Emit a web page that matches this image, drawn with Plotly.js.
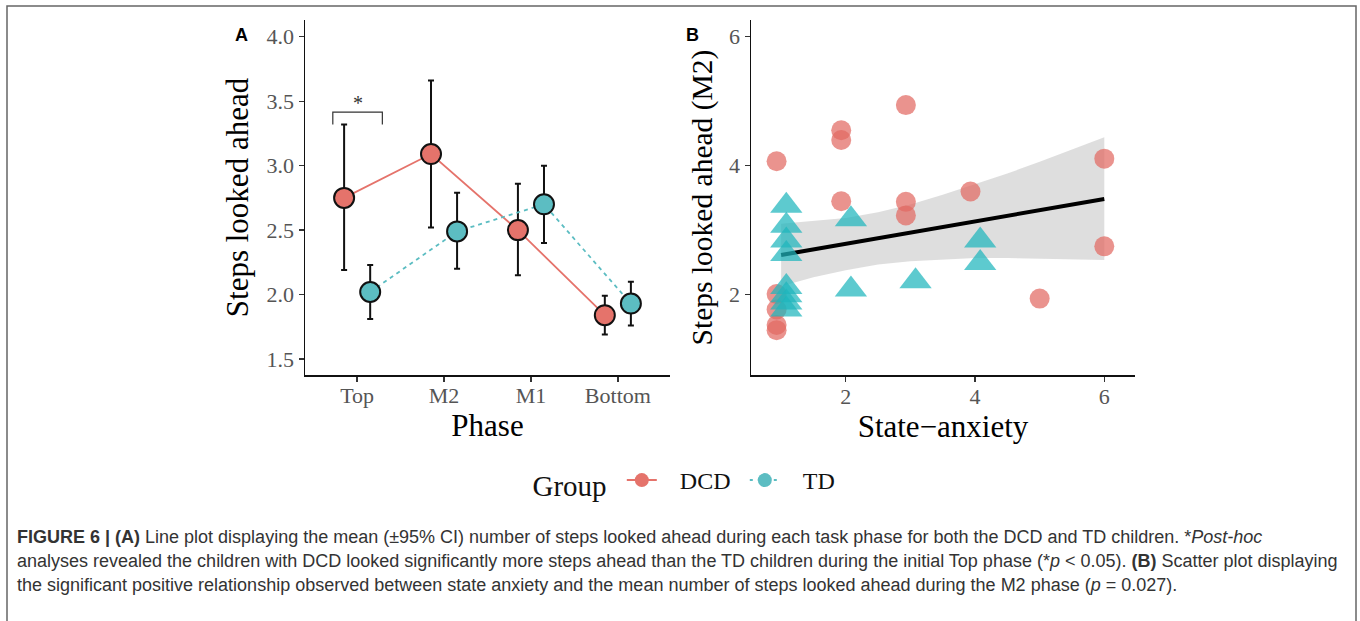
<!DOCTYPE html>
<html>
<head>
<meta charset="utf-8">
<script src="https://cdn.plot.ly/plotly-3.0.1.min.js"></script>
<style>
  html, body { margin: 0; padding: 0; background: #ffffff; }
  #chart { width: 1360px; height: 621px; }
</style>
</head>
<body>
<div id="chart"></div>
<script>
// ---------- Panel A data ----------
const phases   = ['Top', 'M2', 'M1', 'Bottom'];
const dcdMean  = [2.75, 3.09, 2.50, 1.84];
const dcdLow   = [2.19, 2.52, 2.15, 1.69];
const dcdHigh  = [3.32, 3.66, 2.86, 1.99];
const tdMean   = [2.02, 2.49, 2.70, 1.93];
const tdLow    = [1.81, 2.20, 2.40, 1.76];
const tdHigh   = [2.23, 2.79, 3.00, 2.10];
const groups   = ['DCD', 'TD'];

// ---------- Panel B data ----------
const dcdAnxiety = [0.93, 0.93, 0.93, 0.93, 0.93, 1.93, 1.93, 1.93, 2.93, 2.93, 2.93, 3.93, 5.0, 6.0, 6.0];
const dcdStepsM2 = [4.07, 2.01, 1.77, 1.53, 1.45, 4.55, 4.40, 3.45, 4.94, 3.44, 3.23, 3.60, 1.94, 4.11, 2.75];
const tdAnxiety  = [1.08, 1.08, 1.08, 1.08, 1.08, 1.08, 1.08, 1.08, 2.08, 2.08, 3.08, 4.08, 4.08];
const tdStepsM2  = [3.38, 3.07, 2.84, 2.63, 2.12, 1.99, 1.88, 1.77, 3.17, 2.08, 2.21, 2.84, 2.49];
const fitX       = [1, 6];
const fitY       = [2.615, 3.485];
const bandX      = [1, 1.5, 2, 2.5, 3, 3.5, 4, 4.5, 5, 5.5, 6];
const bandLow    = [2.13, 2.27, 2.38, 2.47, 2.52, 2.55, 2.57, 2.57, 2.56, 2.55, 2.54];
const bandHigh   = [3.10, 3.14, 3.19, 3.28, 3.40, 3.55, 3.71, 3.88, 4.06, 4.25, 4.44];

// significance bracket (Top phase, DCD vs TD)
const bracketX = [0.72, 1.29];
const bracketY = [3.32, 3.415];
const sigLabel = '*';

const caption = [
  '<b>FIGURE 6 | (A)</b> Line plot displaying the mean (±95% CI) number of steps looked ahead during each task phase for both the DCD and TD children. *<i>Post-hoc</i>',
  'analyses revealed the children with DCD looked significantly more steps ahead than the TD children during the initial Top phase (*<i>p</i> &lt; 0.05). <b>(B)</b> Scatter plot displaying',
  'the significant positive relationship observed between state anxiety and the mean number of steps looked ahead during the M2 phase (<i>p</i> = 0.027).'
];

// ---------- styling ----------
const RED = '#E5736B';
const TEAL = '#5CBDC2';
const SERIF = '"Liberation Serif", "Times New Roman", serif';
const SANS = '"Liberation Sans", Arial, sans-serif';
const W = 1360, H = 621;
const px = v => v / W;
const py = v => 1 - v / H;
const dodge = 0.15;
const pos = phases.map((_, i) => i + 1);
const NB = '\u00A0';

function errTrace(name, mean, lo, hi, color, dash, off) {
  return {
    type: 'scatter', mode: 'lines+markers', name: name,
    x: pos.map(p => p + off), y: mean,
    xaxis: 'x', yaxis: 'y',
    line: { color: color, width: 1.8, dash: dash },
    marker: { size: 20, color: color, line: { color: '#111', width: 2 } },
    error_y: {
      type: 'data', symmetric: false,
      array: hi.map((h, i) => h - mean[i]),
      arrayminus: mean.map((m, i) => m - lo[i]),
      color: '#111', thickness: 2, width: 3
    },
    legendgroup: name, showlegend: false
  };
}

function legendTrace(name, color, dash) {
  return {
    type: 'scatter', mode: 'lines+markers', name: NB + NB + NB + name, legendgroup: name,
    x: [null], y: [null], xaxis: 'x', yaxis: 'y',
    line: { color: color, width: 2, dash: dash },
    marker: { size: 14, color: color, line: { width: 0 } },
    showlegend: true, hoverinfo: 'skip'
  };
}

const traces = [
  errTrace(groups[0], dcdMean, dcdLow, dcdHigh, RED, 'solid', -dodge),
  errTrace(groups[1], tdMean, tdLow, tdHigh, TEAL, '4px,4px', dodge),
  legendTrace(groups[0], RED, 'solid'),
  legendTrace(groups[1], TEAL, '3px,5px'),
  // Panel B: CI band
  { type: 'scatter', mode: 'lines', x: bandX, y: bandLow, xaxis: 'x2', yaxis: 'y2',
    line: { width: 0, color: 'rgba(0,0,0,0)' }, showlegend: false, hoverinfo: 'skip' },
  { type: 'scatter', mode: 'lines', x: bandX, y: bandHigh, xaxis: 'x2', yaxis: 'y2',
    fill: 'tonexty', fillcolor: 'rgba(160,160,160,0.35)',
    line: { width: 0, color: 'rgba(0,0,0,0)' }, showlegend: false, hoverinfo: 'skip' },
  { type: 'scatter', mode: 'lines', x: fitX, y: fitY, xaxis: 'x2', yaxis: 'y2',
    line: { color: '#000', width: 4 }, showlegend: false },
  { type: 'scatter', mode: 'markers', x: dcdAnxiety, y: dcdStepsM2, xaxis: 'x2', yaxis: 'y2',
    name: groups[0], legendgroup: groups[0], showlegend: false,
    marker: { symbol: 'circle', size: 20, color: '#E26A62', opacity: 0.72, line: { width: 0 } } },
  { type: 'scatter', mode: 'markers', x: tdAnxiety, y: tdStepsM2, xaxis: 'x2', yaxis: 'y2',
    name: groups[1], legendgroup: groups[1], showlegend: false,
    marker: { symbol: 'triangle-up', size: 28, color: '#1FB5BC', opacity: 0.72, line: { width: 0 } } }
];

function axisBase(extra) {
  return Object.assign({
    showline: true, linecolor: '#111', linewidth: 1.5, mirror: false,
    ticks: 'outside', ticklen: 5, tickwidth: 1.3, tickcolor: '#333',
    showgrid: false, zeroline: false,
    tickfont: { family: SERIF, size: 22, color: '#555' },
    automargin: false
  }, extra);
}

const layout = {
  width: W, height: H,
  margin: { l: 0, r: 0, t: 0, b: 0 },
  paper_bgcolor: '#fff', plot_bgcolor: 'rgba(0,0,0,0)',
  font: { family: SERIF, color: '#000' },
  xaxis: axisBase({
    domain: [px(305), px(670)], anchor: 'y', range: [0.4, 4.6],
    tickvals: pos, ticktext: phases, ticklabelstandoff: -5,
    title: { text: 'Phase', font: { family: SERIF, size: 31, color: '#000' }, standoff: 5 }
  }),
  yaxis: axisBase({
    domain: [py(375), py(20)], anchor: 'x', range: [1.376, 4.13],
    tickvals: [1.5, 2.0, 2.5, 3.0, 3.5, 4.0], ticktext: ['1.5', '2.0', '2.5', '3.0', '3.5', '4.0'],
    title: { text: 'Steps looked ahead', font: { family: SERIF, size: 31, color: '#000' }, standoff: 8 }
  }),
  xaxis2: axisBase({
    domain: [px(751), px(1135)], anchor: 'y2', range: [0.534, 6.475],
    tickvals: [2, 4, 6], ticklabelstandoff: -4,
    title: { text: 'State\u2212anxiety', font: { family: SERIF, size: 31, color: '#000' }, standoff: 5 }
  }),
  yaxis2: axisBase({
    domain: [py(375), py(20)], anchor: 'x2', range: [0.755, 6.26],
    tickvals: [2, 4, 6],
    title: { text: 'Steps looked ahead (M2)', font: { family: SERIF, size: 29.5, color: '#000' }, standoff: 8 }
  }),
  showlegend: true,
  legend: {
    orientation: 'h', x: 0.5143, xanchor: 'center', y: py(482), yanchor: 'middle',
    font: { family: SERIF, size: 24, color: '#111' },
    title: { text: 'Group' + NB, font: { family: SERIF, size: 29, color: '#111' }, side: 'left' },
    itemwidth: 30, entrywidth: 78, entrywidthmode: 'pixels', bgcolor: 'rgba(0,0,0,0)'
  },
  shapes: [
    { type: 'path', xref: 'x', yref: 'y',
      path: `M ${bracketX[0]} ${bracketY[0]} L ${bracketX[0]} ${bracketY[1]} L ${bracketX[1]} ${bracketY[1]} L ${bracketX[1]} ${bracketY[0]}`,
      line: { color: '#333', width: 1.2 } },
    { type: 'rect', xref: 'paper', yref: 'paper', x0: px(7), x1: px(1356), y0: py(640), y1: py(6),
      line: { color: '#666', width: 1.5 }, fillcolor: 'rgba(0,0,0,0)' }
  ],
  annotations: [
    { xref: 'x', yref: 'y', x: (bracketX[0] + bracketX[1]) / 2, y: bracketY[1], yanchor: 'bottom', yshift: -4,
      text: sigLabel, showarrow: false, font: { family: SERIF, size: 20, color: '#333' } },
    { xref: 'paper', yref: 'paper', x: px(241), y: py(35), xanchor: 'center', yanchor: 'middle',
      text: '<b>A</b>', showarrow: false, font: { family: SANS, size: 18, color: '#000' } },
    { xref: 'paper', yref: 'paper', x: px(692), y: py(35), xanchor: 'center', yanchor: 'middle',
      text: '<b>B</b>', showarrow: false, font: { family: SANS, size: 18, color: '#000' } }
  ].concat(caption.map((t, i) => ({
    xref: 'paper', yref: 'paper', x: px(15), xanchor: 'left', y: py(537 + 24 * i), yanchor: 'middle',
    text: t, showarrow: false, align: 'left',
    font: { family: SANS, size: 18, color: '#333' }
  })))
};

Plotly.newPlot('chart', traces, layout, { displayModeBar: false, staticPlot: true });
</script>
</body>
</html>
